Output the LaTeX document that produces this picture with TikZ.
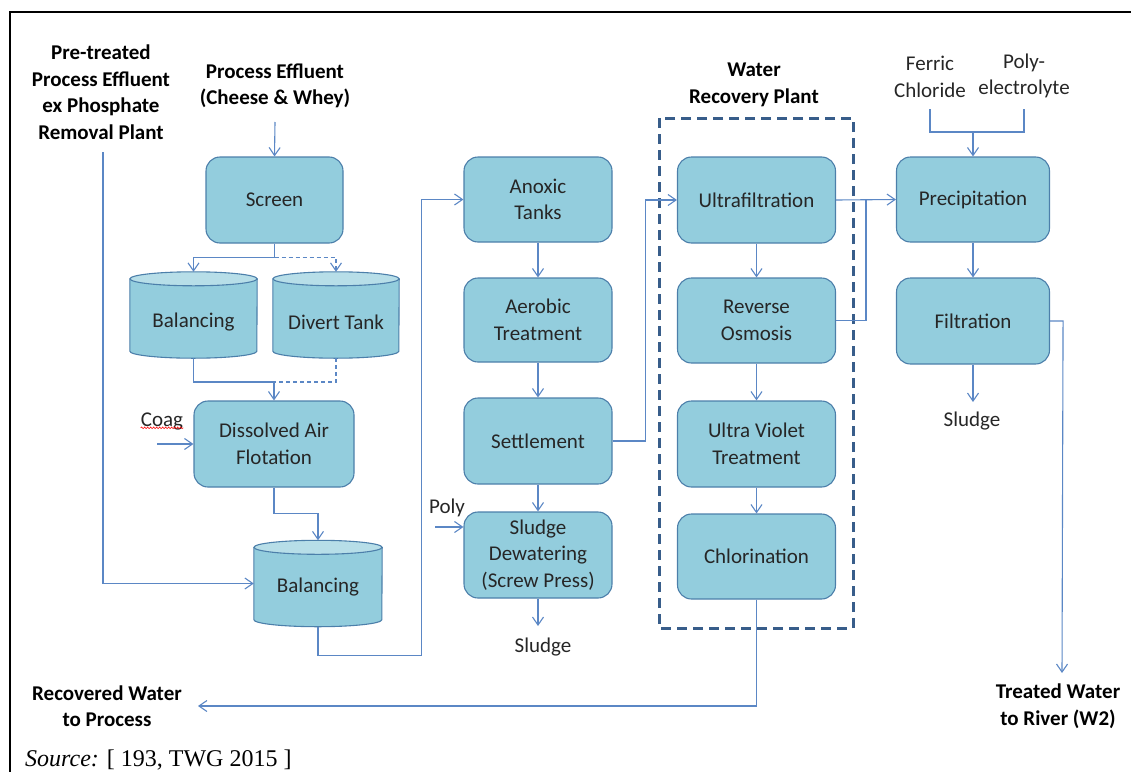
\documentclass[tikz,border=0pt]{standalone}
\usepackage{fontspec}
\setmainfont{Carlito}
\newfontfamily\srcfont{Liberation Serif}
\usetikzlibrary{arrows.meta,calc,backgrounds,decorations.pathmorphing}
\definecolor{boxfill}{HTML}{93CDDD}
\definecolor{boxline}{HTML}{4C7FAA}
\definecolor{cyltopc}{HTML}{B7DEE8}
\definecolor{connc}{HTML}{5B87C5}
\definecolor{wrpc}{HTML}{385D8A}
\newcommand\dfont{\fontsize{21}{26.5}\selectfont}
\newcommand\cyldraw[2]{%
  \draw[cylb] ($(#1.north west)+(0,7)$) -- ($(#1.south west)+(0,-7)$)
    arc[start angle=180,end angle=360,x radius=#2,y radius=7pt]
    -- ($(#1.north east)+(0,7)$) -- cycle;
  \draw[cylt] ($(#1.north)+(0,7)$) ellipse[x radius=#2,y radius=7pt];}
\begin{document}
\begin{tikzpicture}[x=1pt,y=-1pt,
  box/.style={draw=boxline, fill=boxfill, line width=1.1pt, rounded corners=14pt,
    align=center, text=black!85, font=\dfont, inner sep=0pt},
  cyl/.style={draw=none, minimum height=86pt, align=center, text=black!85, font=\dfont, inner sep=0pt},
  cylb/.style={draw=boxline, fill=boxfill, line width=1.1pt},
  cylt/.style={draw=boxline, fill=cyltopc, line width=1.1pt},
  lbl/.style={align=center, font=\dfont, text=black!85, inner sep=0pt},
  blbl/.style={align=center, font=\dfont\bfseries, text=black, inner sep=0pt},
  conn/.style={draw=connc, line width=1.1pt},
  arr/.style={conn, -{Straight Barb[length=8pt,width=11pt,line width=1.1pt]}},
  dsh/.style={dash pattern=on 4pt off 3pt}]
\useasboundingbox (0,0) rectangle (1131,771);
% frame
\draw[line width=2pt] (10,790) -- (10,12) -- (1140,12);

% labels
\node[blbl] (pretreat) at (101,92) {Pre-treated\\Process Effluent\\ex Phosphate\\Removal Plant};
\node[blbl] (procin) at (275,86) {Process Effluent\\(Cheese \& Whey)};
\node[blbl] (wrplbl) at (754,85) {Water\\Recovery Plant};
\node[lbl] (ferric) at (930,77) {Ferric\\Chloride};
\node[lbl] (polyel) at (1024,76) {Poly-\\electrolyte};
\node[lbl] (coag) at (162,421) {Coag};
\node[lbl] (poly) at (447,508) {Poly};
\node[lbl] (sludge1) at (543,647) {Sludge};
\node[lbl] (sludge2) at (972,421) {Sludge};
\node[blbl] (recov) at (107,706) {Recovered Water\\to Process};
\node[blbl] (treated) at (1058,706) {Treated Water\\to River (W2)};
\node[anchor=base west, inner sep=0pt, font=\srcfont\fontsize{24}{28}\selectfont] (src) at (25,766) {\textit{Source:} [ 193, TWG 2015 ]};
\draw[red, line width=0.6pt, decorate, decoration={snake, amplitude=0.8pt, segment length=3pt}]
  ([yshift=2pt]coag.south west) -- ([yshift=2pt]coag.south east);

% boxes
\node[box, minimum width=137pt, minimum height=86pt] (screen) at (274.5,200) {Screen};
\node[cyl, minimum width=127pt] (bal1) at (193.5,315) {\raisebox{-7pt}[\height][\depth]{Balancing}};
\node[cyl, minimum width=126pt] (div) at (336,315) {\raisebox{-7pt}[\height][\depth]{Divert Tank}};
\node[box, minimum width=160pt, minimum height=86pt] (daf) at (274,444) {Dissolved Air\\Flotation};
\node[cyl, minimum width=128pt] (bal2) at (318,583.5) {\raisebox{-4pt}[\height][\depth]{Balancing}};

\node[box, minimum width=148pt, minimum height=85pt] (anoxic) at (538,199.5) {Anoxic\\Tanks};
\node[box, minimum width=148pt, minimum height=84pt] (aerobic) at (538,320) {Aerobic\\Treatment};
\node[box, minimum width=148pt, minimum height=86pt] (settle) at (538,441) {Settlement};
\node[box, minimum width=148pt, minimum height=86pt] (dewater) at (538,555) {Sludge\\Dewatering\\(Screw Press)};

\node[box, minimum width=158pt, minimum height=86pt] (uf) at (756.5,200) {Ultrafiltration};
\node[box, minimum width=158pt, minimum height=85pt] (ro) at (756.5,320.5) {Reverse\\Osmosis};
\node[box, minimum width=158pt, minimum height=86pt] (uv) at (756.5,444) {Ultra Violet\\Treatment};
\node[box, minimum width=158pt, minimum height=85pt] (chlor) at (756.5,556.5) {Chlorination};

\node[box, minimum width=153pt, minimum height=85pt] (precip) at (973,199.5) {Precipitation};
\node[box, minimum width=153pt, minimum height=86pt] (filt) at (973,321) {Filtration};

\begin{scope}[on background layer]
  \cyldraw{bal1}{63.5pt}
  \cyldraw{div}{63pt}
  \cyldraw{bal2}{64pt}
\end{scope}

% water recovery plant
\draw[wrpc, line width=3pt, dash pattern=on 10pt off 6pt] (659,118) rectangle (853,628);

% connectors
\coordinate (pin) at (275,122);
\draw[arr] (pin) -- (screen.north);
\draw[conn] (screen.south) -- ++(0,14) coordinate (j1);
\draw[arr] (j1) -| (bal1.north);
\draw[arr, dsh] (j1) -| (div.north);
\coordinate (j2) at (274,382);
\draw[conn] (bal1.south) |- (j2);
\draw[conn, dsh] (div.south) |- (j2);
\draw[arr] (j2) -- (daf.north);
\coordinate (coagin) at (157,444);
\draw[arr] (coagin) -- (daf.west);
\draw[arr] (daf.south) -- ++(0,26) -| (bal2.north);
\coordinate (ptin) at (103,152);
\draw[arr] (ptin) |- (bal2.west);
\draw[arr] (bal2.south) -- ++(0,29) -| ([xshift=-42pt]anoxic.west) -- (anoxic.west);

\draw[arr] (anoxic) -- (aerobic);
\draw[arr] (aerobic) -- (settle);
\draw[arr] (settle) -- (dewater);
\coordinate (s1) at (538,626);
\draw[arr] (dewater.south) -- (s1);
\coordinate (polyin) at (435,527);
\draw[arr] (polyin) -- (polyin -| dewater.west);
\draw[arr] (settle.east) -- ++(33,0) |- (uf.west);

\draw[arr] (uf) -- (ro);
\draw[arr] (ro) -- (uv);
\draw[arr] (uv) -- (chlor);
\coordinate (recin) at (198,706);
\draw[arr] (chlor.south) |- (recin);

\draw[arr] (uf.east) -- (precip.west);
\coordinate (j3) at ($(uf.east)!0.5!(precip.west)$);
\draw[conn] (ro.east) -| (j3);

\coordinate (fc) at (930,109);
\coordinate (pe) at (1024,109);
\draw[conn] (fc) |- (1024,132) -- (pe);
\draw[arr] (precip.north |- 0,132) -- (precip.north);
\draw[arr] (precip) -- (filt);
\coordinate (s2) at (973,402);
\draw[arr] (filt.south) -- (s2);
\coordinate (tw) at (1062,673);
\draw[arr] (filt.east) -- ++(13,0) -- (tw);
\end{tikzpicture}
\end{document}
